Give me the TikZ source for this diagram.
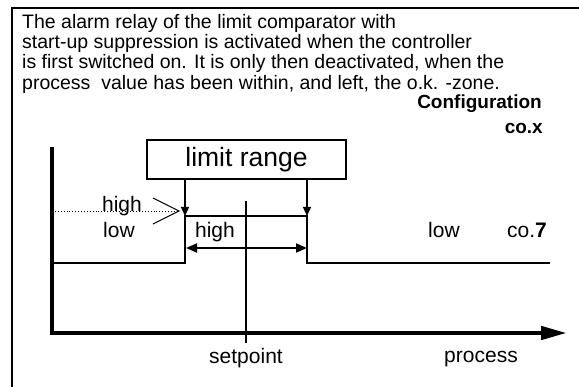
\documentclass[tikz,border=0pt]{standalone}
\usepackage{fontspec}
\setmainfont{Liberation Sans}
\usetikzlibrary{arrows.meta,positioning}

\begin{document}
\begin{tikzpicture}[
    x=1pt, y=-1pt,
    every node/.style={font=\fontsize{21}{23}\selectfont, inner sep=0pt},
    bodytext/.style={align=left, font=\fontsize{19.5}{20.3}\selectfont},
    cfgtext/.style={font=\fontsize{19}{21}\selectfont\bfseries},
    rangebox/.style={draw, line width=1.3pt, minimum width=199pt, minimum height=39pt, font=\fontsize{26.5}{30}\selectfont},
    axisline/.style={line width=4.5pt, -{Triangle[length=26pt,width=13pt]}},
    relay/.style={line width=2pt},
    limarr/.style={line width=1.3pt, -{Triangle[length=9pt,width=8pt]}},
    spanarr/.style={line width=2pt, {Triangle[length=11pt,width=9pt]}-{Triangle[length=11pt,width=9pt]}},
    pointer/.style={line width=0.9pt}
]
\useasboundingbox (0,0) rectangle (579,387);

% Frame
\draw[line width=2pt] (12,387) -- (12,8) -- (579,8);

% Description
\node[bodytext, anchor=north west] (intro) at (22,14) {The alarm relay of the limit comparator with\\
start-up suppression is activated when the controller\\
is first switched on. It is only then deactivated, when the\\
process\ \ value has been within, and left, the o.k. -zone.};
\node[cfgtext, anchor=base east] (config) at (542,109) {Configuration};
\node[cfgtext, anchor=base east] (cox) at (543,134) {co.x};

% Axes
\coordinate (origin) at (52,333);
\coordinate (ytop) at (52,147);
\coordinate (xend) at (567,333);
\draw[axisline] (ytop) -- (origin) -- (xend);

% Limit range
\node[rangebox] (range) at (246.5,159.5) {limit range};
\coordinate (lowstep) at (185,216);
\coordinate (highstep) at (307,216);
\draw[limarr] (range.south -| lowstep) -- (lowstep);
\draw[limarr] (range.south -| highstep) -- (highstep);

% Relay
\coordinate (lowleft) at (52,263);
\coordinate (lowright) at (550,263);
\draw[relay] (lowleft) -- (lowleft -| lowstep) -- (lowstep) -- (highstep) -- (highstep |- lowright) -- (lowright);
\coordinate (spanleft) at (186,248);
\draw[spanarr] (spanleft) -- (spanleft -| highstep);

% Setpoint
\coordinate (sptop) at (246,201);
\coordinate (spbot) at (246,343);
\draw[relay] (sptop) -- (spbot);
\node[below=5pt of spbot] (setpoint) {setpoint};
\node[anchor=base] (process) at (481,363) {process};

% Switching points
\node[anchor=base] (hileft) at (122,212) {high};
\node[anchor=base] (loleft) at (119,238) {low};
\coordinate (apex) at (179,211);
\coordinate (chevup) at (153,198);
\coordinate (chevdown) at (153,224);
\draw[pointer, dotted] (origin |- apex) -- (apex);
\draw[pointer] (chevup) -- (apex) -- (chevdown);

% Band labels
\node[anchor=base] (hiband) at (215,238) {high};
\node[anchor=base] (loright) at (444,238) {low};
\node[anchor=base east] (coseven) at (547,238) {co.\textbf{7}};

\end{tikzpicture}
\end{document}
